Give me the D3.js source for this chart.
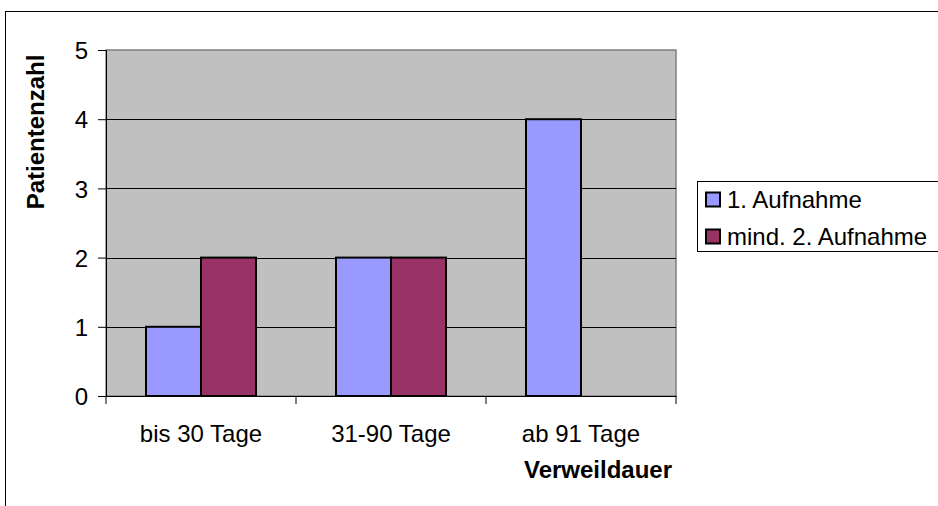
<!DOCTYPE html>
<html>
<head>
<meta charset="utf-8">
<script src="https://d3js.org/d3.v7.min.js"></script>
<style>
  body { margin: 0; background: #fff; }
  svg { display: block; font-family: "Liberation Sans", Arial, sans-serif; }
</style>
</head>
<body>
<script>
// chart data
const categories = ["bis 30 Tage", "31-90 Tage", "ab 91 Tage"];
const seriesNames = ["1. Aufnahme", "mind. 2. Aufnahme"];
const firstAdmission = [1, 2, 4];
const repeatAdmission = [2, 2, 0];
const yTicks = [0, 1, 2, 3, 4, 5];
const colors = ["#9999ff", "#993366"];

const W = 938, H = 506;
const plot = {left: 106, top: 50, right: 676, bottom: 396};
const FONT = "Liberation Sans, Arial, sans-serif";

let svg = d3.select("body").append("svg").attr("width", W).attr("height", H);

// outer frame
svg.append("rect")
  .attr("x", 5.5).attr("y", 11.5)
  .attr("width", 940).attr("height", 520)
  .attr("fill", "#fff").attr("stroke", "#000").attr("stroke-width", 1);

let x = d3.scaleBand().domain(categories).range([plot.left, plot.right]);
let inner = d3.scaleBand().domain(seriesNames)
  .range([40, x.bandwidth() - 40]);
let y = d3.scaleLinear().domain([0, 5]).range([plot.bottom, plot.top]);

// plot background
svg.append("rect")
  .attr("x", plot.left).attr("y", plot.top)
  .attr("width", plot.right - plot.left).attr("height", plot.bottom - plot.top)
  .attr("fill", "#c0c0c0").attr("stroke", "#808080").attr("stroke-width", 1.5);

// gridlines
svg.selectAll("line.grid")
  .data(yTicks.filter(d => d > 0 && d < 5))
  .enter().append("line")
  .attr("class", "grid")
  .attr("x1", plot.left).attr("x2", plot.right)
  .attr("y1", d => Math.round(y(d)) + 0.5).attr("y2", d => Math.round(y(d)) + 0.5)
  .attr("stroke", "#000").attr("stroke-width", 1);

// bars
let rows = [];
categories.forEach((c, i) => {
  rows.push({cat: c, s: 0, v: firstAdmission[i]});
  rows.push({cat: c, s: 1, v: repeatAdmission[i]});
});

svg.selectAll("rect.bar")
  .data(rows.filter(d => d.v > 0))
  .enter().append("rect")
  .attr("class", "bar")
  .attr("x", d => x(d.cat) + inner(seriesNames[d.s]))
  .attr("y", d => y(d.v))
  .attr("width", inner.bandwidth())
  .attr("height", d => y(0) - y(d.v))
  .attr("fill", d => colors[d.s])
  .attr("stroke", "#000").attr("stroke-width", 2);

// y axis
let yAxis = svg.append("g")
  .attr("transform", `translate(${plot.left},0)`)
  .call(d3.axisLeft(y).tickValues(yTicks).tickSize(8).tickPadding(10).tickFormat(d3.format("d")));
yAxis.select(".domain").attr("stroke", "#000");
yAxis.selectAll("text").attr("font-size", 24).attr("fill", "#000")
  .attr("font-family", FONT).attr("dy", "0.36em");

// x axis
let xAxis = svg.append("g")
  .attr("transform", `translate(0,${plot.bottom})`)
  .call(d3.axisBottom(x).tickSize(0).tickPadding(29));
xAxis.select(".domain").attr("stroke", "#000");
xAxis.selectAll("text").attr("font-size", 24).attr("fill", "#000")
  .attr("font-family", FONT);
// category separators
xAxis.selectAll("line.sep")
  .data(categories.concat(["end"]))
  .enter().append("line")
  .attr("class", "sep")
  .attr("x1", (d, i) => i < categories.length ? x(d) : plot.right)
  .attr("x2", (d, i) => i < categories.length ? x(d) : plot.right)
  .attr("y1", 0).attr("y2", 8)
  .attr("stroke", "#000");

// axis titles
svg.append("text")
  .attr("x", 598).attr("y", 478)
  .attr("text-anchor", "middle")
  .attr("font-size", 24).attr("font-weight", "bold")
  .text("Verweildauer");

svg.append("text")
  .attr("transform", "translate(44,132) rotate(-90)")
  .attr("text-anchor", "middle")
  .attr("font-size", 24).attr("font-weight", "bold")
  .text("Patientenzahl");

// legend
let legend = svg.append("g");
legend.append("rect")
  .attr("x", 697.5).attr("y", 181.5)
  .attr("width", 260).attr("height", 70)
  .attr("fill", "#fff").attr("stroke", "#000");

seriesNames.forEach((s, i) => {
  let cy = 199.5 + i * 37;
  legend.append("rect")
    .attr("x", 706).attr("y", cy - 7)
    .attr("width", 14).attr("height", 14)
    .attr("fill", colors[i]).attr("stroke", "#000").attr("stroke-width", 2);
  legend.append("text")
    .attr("x", 727).attr("y", cy + 8)
    .attr("font-size", 24)
    .text(s);
});
</script>
</body>
</html>
